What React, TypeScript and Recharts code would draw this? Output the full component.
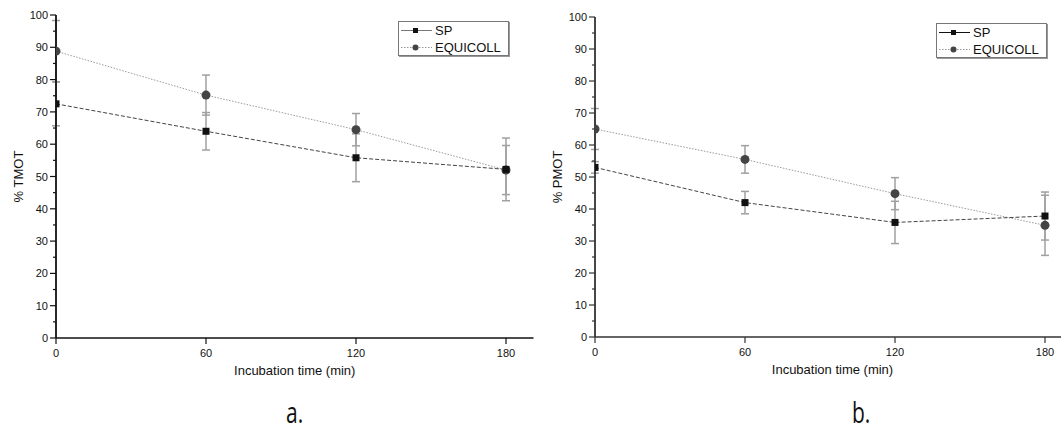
import React from 'react';
import { LineChart, Line, XAxis, YAxis, ErrorBar, Legend } from 'recharts';

// incubation times (min) and axis ticks
const times = [0, 60, 120, 180];
const xTicks = [0, 60, 120, 180];
const yTicks = [0, 5, 10, 15, 20, 25, 30, 35, 40, 45, 50, 55, 60, 65, 70, 75, 80, 85, 90, 95, 100];

// panel a. — total motility
const tmotSp = [72.5, 64.0, 55.8, 52.2];
const tmotSpErr = [6.8, 5.8, 7.4, 9.7];
const tmotEq = [88.8, 75.2, 64.5, 52.0];
const tmotEqErr = [9.5, 6.2, 5.0, 7.6];

// panel b. — progressive motility
const pmotSp = [53.0, 42.0, 35.8, 37.8];
const pmotSpErr = [1.8, 3.5, 6.6, 7.5];
const pmotEq = [65.0, 55.5, 44.8, 34.9];
const pmotEqErr = [6.4, 4.3, 5.0, 9.4];

const FONT = "'Liberation Sans', Arial, sans-serif";

function buildRows(sp: number[], spErr: number[], eq: number[], eqErr: number[]) {
  return times.map((t, i) => ({ t, sp: sp[i], spErr: spErr[i], eq: eq[i], eqErr: eqErr[i] }));
}

function makeYTick(color: string) {
  return (props: any) => {
    const { x, y, payload } = props;
    const v = payload.value as number;
    const major = v % 10 === 0;
    return (
      <g>
        <line x1={x} x2={x - (major ? 6 : 3)} y1={y} y2={y} stroke={color} strokeWidth={1.2} />
        {major && (
          <text x={x - 8} y={y} dy={4} textAnchor="end" fontSize={11} fontFamily={FONT} fill="#111">
            {v}
          </text>
        )}
      </g>
    );
  };
}

function makeXTick(color: string) {
  return (props: any) => {
    const { x, y, payload } = props;
    return (
      <g>
        <line x1={x} x2={x} y1={y} y2={y + 6} stroke={color} strokeWidth={1.2} />
        <text x={x} y={y + 19} textAnchor="middle" fontSize={11} fontFamily={FONT} fill="#111">
          {payload.value}
        </text>
      </g>
    );
  };
}

const SquareDot = (props: any) => {
  const { cx, cy, index } = props;
  if (cx == null || cy == null) return <g key={`sq-${index}`} />;
  return <rect key={`sq-${index}`} x={cx - 3.5} y={cy - 3.5} width={7} height={7} fill="#111" />;
};

const CircleDot = (props: any) => {
  const { cx, cy, index } = props;
  if (cx == null || cy == null) return <g key={`ci-${index}`} />;
  return <circle key={`ci-${index}`} cx={cx} cy={cy} r={4.5} fill="#444" />;
};

function LegendBox({ spColor }: { spColor: string }) {
  const row = { display: 'flex', alignItems: 'center', height: 17 } as const;
  return (
    <div
      style={{
        border: '1px solid #777',
        boxShadow: '1px 1px 0 #999',
        background: '#fff',
        width: 109,
        height: 33,
        fontFamily: FONT,
        fontSize: 13,
        color: '#111',
        lineHeight: '17px',
      }}
    >
      <div style={row}>
        <svg width={36} height={17}>
          <line x1={2} x2={33} y1={8.5} y2={8.5} stroke={spColor} strokeWidth={1} />
          <rect x={14} y={6} width={5} height={5} fill="#111" />
        </svg>
        <span>SP</span>
      </div>
      <div style={row}>
        <svg width={36} height={17}>
          <line x1={2} x2={33} y1={8.5} y2={8.5} stroke="#999" strokeWidth={1} strokeDasharray="1.5 1.5" />
          <circle cx={16.5} cy={8.5} r={3} fill="#444" />
        </svg>
        <span>EQUICOLL</span>
      </div>
    </div>
  );
}

interface PanelProps {
  left: number;
  width: number;
  plotLeft: number;
  plotTop: number;
  plotHeight: number;
  xMax: number;
  sp: number[];
  spErr: number[];
  eq: number[];
  eqErr: number[];
  yTitle: string;
  axisColor: string;
  legendLeft: number;
  legendTop: number;
  legendSpColor: string;
}

function Panel(p: PanelProps) {
  const height = 431;
  const plotWidth = p.xMax * 2.5;
  const rows = buildRows(p.sp, p.spErr, p.eq, p.eqErr);
  return (
    <div style={{ position: 'absolute', left: p.left, top: 0 }}>
      <LineChart
        width={p.width}
        height={height}
        data={rows}
        margin={{
          top: p.plotTop,
          left: p.plotLeft - 1,
          right: p.width - p.plotLeft - plotWidth,
          bottom: height - p.plotTop - p.plotHeight - 1,
        }}
      >
        <XAxis
          dataKey="t"
          type="number"
          domain={[0, p.xMax]}
          ticks={xTicks}
          interval={0}
          allowDataOverflow
          height={1}
          tickSize={0}
          tickMargin={0}
          tick={makeXTick(p.axisColor)}
          axisLine={{ stroke: p.axisColor, strokeWidth: 1.6 }}
          label={{
            value: 'Incubation time (min)',
            position: 'bottom',
            offset: 27,
            fontSize: 13,
            fontFamily: FONT,
            fill: '#111',
          }}
        />
        <YAxis
          type="number"
          domain={[0, 100]}
          ticks={yTicks}
          interval={0}
          width={1}
          tickSize={0}
          tickMargin={0}
          tick={makeYTick(p.axisColor)}
          axisLine={{ stroke: p.axisColor, strokeWidth: 1.8 }}
          label={{
            value: p.yTitle,
            angle: -90,
            position: 'left',
            offset: 37,
            textAnchor: 'middle',
            fontSize: 13,
            fontFamily: FONT,
            fill: '#111',
          }}
        />
        <Legend
          layout="horizontal"
          align="center"
          verticalAlign="middle"
          wrapperStyle={{ left: p.legendLeft, top: p.legendTop, width: 111, height: 35 }}
          content={() => <LegendBox spColor={p.legendSpColor} />}
        />
        <Line
          dataKey="eq"
          name="EQUICOLL"
          stroke="#9a9a9a"
          strokeWidth={1}
          strokeDasharray="1.5 1.5"
          dot={CircleDot}
          activeDot={false}
          isAnimationActive={false}
        >
          <ErrorBar dataKey="eqErr" width={4} stroke="#a0a0a0" strokeWidth={1.5} direction="y" />
        </Line>
        <Line
          dataKey="sp"
          name="SP"
          stroke="#444"
          strokeWidth={1}
          strokeDasharray="4 2"
          dot={SquareDot}
          activeDot={false}
          isAnimationActive={false}
        >
          <ErrorBar dataKey="spErr" width={4} stroke="#a0a0a0" strokeWidth={1.5} direction="y" />
        </Line>
      </LineChart>
    </div>
  );
}

const captionStyle: React.CSSProperties = {
  position: 'absolute',
  top: 397,
  fontFamily: "'Open Sans', sans-serif",
  fontSize: 30,
  lineHeight: '30px',
  color: '#111',
  transform: 'scaleX(0.7)',
  transformOrigin: 'left center',
};

export default function App() {
  return (
    <div
      style={{
        position: 'absolute',
        left: 0,
        top: 0,
        width: 1061,
        height: 431,
        overflow: 'hidden',
        background: '#fff',
      }}
    >
      <Panel
        left={0}
        width={540}
        plotLeft={56}
        plotTop={15}
        plotHeight={323}
        xMax={191}
        sp={tmotSp}
        spErr={tmotSpErr}
        eq={tmotEq}
        eqErr={tmotEqErr}
        yTitle="% TMOT"
        axisColor="#111"
        legendLeft={398}
        legendTop={21}
        legendSpColor="#777"
      />
      <Panel
        left={540}
        width={540}
        plotLeft={55}
        plotTop={17}
        plotHeight={320}
        xMax={190}
        sp={pmotSp}
        spErr={pmotSpErr}
        eq={pmotEq}
        eqErr={pmotEqErr}
        yTitle="% PMOT"
        axisColor="#333"
        legendLeft={396}
        legendTop={23}
        legendSpColor="#111"
      />
      <div style={{ ...captionStyle, left: 286 }}>a.</div>
      <div style={{ ...captionStyle, left: 852 }}>b.</div>
    </div>
  );
}
